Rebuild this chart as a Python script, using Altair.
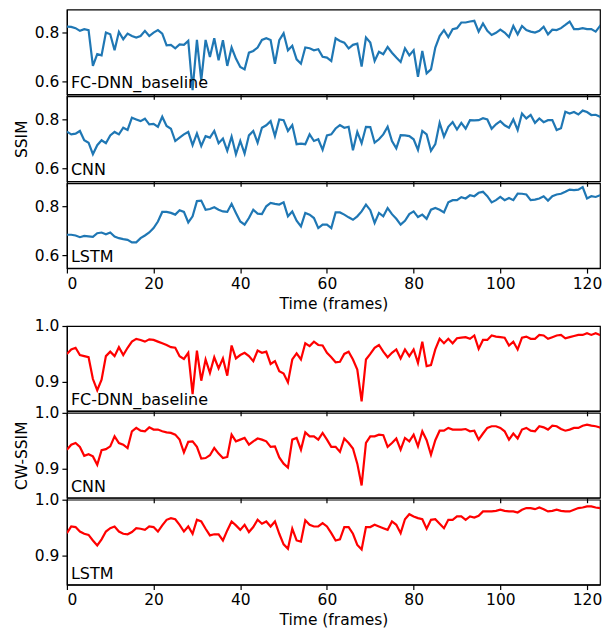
import altair as alt
import pandas as pd

frames = list(range(126))

ssim_fc = [
    0.824, 0.823, 0.818, 0.807, 0.814, 0.810, 0.664, 0.712, 0.707, 0.800,
    0.793, 0.728, 0.803, 0.773, 0.796, 0.786, 0.780, 0.786, 0.807, 0.786,
    0.800, 0.810, 0.796, 0.748, 0.750, 0.736, 0.752, 0.750, 0.766, 0.565,
    0.770, 0.605, 0.770, 0.700, 0.777, 0.687, 0.769, 0.664, 0.739, 0.694,
    0.660, 0.650, 0.718, 0.725, 0.739, 0.770, 0.777, 0.770, 0.673, 0.769,
    0.797, 0.728, 0.746, 0.691, 0.673, 0.739, 0.736, 0.728, 0.732, 0.701,
    0.698, 0.684, 0.777,
    0.766, 0.759, 0.735, 0.750, 0.755, 0.661, 0.780, 0.759, 0.684, 0.722,
    0.712, 0.741, 0.718, 0.698, 0.680, 0.736, 0.707, 0.728, 0.620, 0.725,
    0.634, 0.650, 0.739, 0.786, 0.810, 0.782, 0.814, 0.818, 0.841, 0.841,
    0.845, 0.848, 0.804, 0.837, 0.807, 0.790, 0.799, 0.812, 0.800, 0.782,
    0.827, 0.793, 0.827, 0.810, 0.804, 0.800, 0.807, 0.824, 0.793, 0.812,
    0.810, 0.818, 0.831, 0.845, 0.814, 0.814, 0.818, 0.814, 0.814, 0.804,
    0.827, 0.807, 0.804,
]

ssim_cnn = [
    0.750, 0.739, 0.742, 0.753, 0.715, 0.705, 0.658, 0.695, 0.715, 0.703,
    0.735, 0.749, 0.739, 0.766, 0.757, 0.807, 0.800, 0.793, 0.803, 0.780,
    0.782, 0.770, 0.811, 0.773, 0.762, 0.712, 0.726, 0.739, 0.749, 0.695,
    0.743, 0.692, 0.732, 0.726, 0.753, 0.703, 0.722, 0.672, 0.730, 0.658,
    0.712, 0.661, 0.735, 0.753, 0.705, 0.766, 0.776, 0.793, 0.732, 0.800,
    0.797, 0.753, 0.777, 0.699, 0.701, 0.699, 0.739, 0.712, 0.719, 0.676,
    0.735, 0.739, 0.763,
    0.777, 0.766, 0.770, 0.674, 0.749, 0.703, 0.770, 0.769, 0.705, 0.719,
    0.739, 0.770, 0.712, 0.682, 0.736, 0.735, 0.732, 0.719, 0.676, 0.753,
    0.739, 0.672, 0.699, 0.786, 0.730, 0.770, 0.789, 0.759, 0.786, 0.762,
    0.797, 0.796, 0.797, 0.805, 0.800, 0.762, 0.780, 0.793, 0.776, 0.766,
    0.800, 0.757, 0.824, 0.804, 0.818, 0.786, 0.804, 0.789, 0.797, 0.797,
    0.757, 0.764, 0.831, 0.824, 0.830, 0.820, 0.836, 0.830, 0.818, 0.819,
    0.811, 0.793, 0.791,
]

ssim_lstm = [
    0.684, 0.684, 0.681, 0.674, 0.679, 0.677, 0.675, 0.690, 0.693, 0.686,
    0.693, 0.677, 0.670, 0.666, 0.663, 0.653, 0.653, 0.670, 0.681, 0.693,
    0.711, 0.738, 0.777, 0.777, 0.773, 0.766, 0.784, 0.777, 0.734, 0.759,
    0.821, 0.823, 0.786, 0.789, 0.796, 0.786, 0.779, 0.777, 0.810, 0.773,
    0.738, 0.725, 0.752, 0.786, 0.770, 0.768, 0.800, 0.814, 0.810, 0.807,
    0.816, 0.759, 0.779, 0.741, 0.718, 0.773, 0.766, 0.752, 0.711, 0.725,
    0.725, 0.711, 0.775,
    0.775, 0.766, 0.755, 0.745, 0.759, 0.779, 0.807, 0.784, 0.732, 0.773,
    0.759, 0.793, 0.768, 0.749, 0.725, 0.741, 0.768, 0.779, 0.756, 0.766,
    0.749, 0.786, 0.793, 0.786, 0.775, 0.816, 0.825, 0.825, 0.837, 0.832,
    0.845, 0.841, 0.855, 0.859, 0.841, 0.816, 0.825, 0.838, 0.825, 0.834,
    0.825, 0.852, 0.851, 0.848, 0.825, 0.827, 0.832, 0.841, 0.823, 0.841,
    0.848, 0.851, 0.859, 0.868, 0.866, 0.868, 0.878, 0.832, 0.841, 0.838,
    0.845, 0.845, 0.834,
]

cw_fc = [
    0.950, 0.958, 0.961, 0.948, 0.946, 0.944, 0.905, 0.885, 0.904, 0.946,
    0.954, 0.946, 0.962, 0.948, 0.961, 0.972, 0.977, 0.975, 0.972, 0.976,
    0.975, 0.972, 0.969, 0.966, 0.962, 0.961, 0.946, 0.941, 0.952, 0.878,
    0.956, 0.902, 0.940, 0.916, 0.944, 0.924, 0.942, 0.911, 0.965, 0.942,
    0.948, 0.952, 0.946, 0.937, 0.956, 0.952, 0.954, 0.932, 0.937, 0.919,
    0.915, 0.899, 0.940, 0.951, 0.940, 0.969, 0.964, 0.972, 0.966, 0.965,
    0.952, 0.944, 0.935,
    0.936, 0.950, 0.954, 0.940, 0.922, 0.865, 0.940, 0.950, 0.961, 0.966,
    0.954, 0.944, 0.952, 0.958, 0.942, 0.958, 0.946, 0.958, 0.934, 0.972,
    0.928, 0.930, 0.958, 0.977, 0.969, 0.977, 0.969, 0.978, 0.979, 0.980,
    0.977, 0.983, 0.959, 0.975, 0.975, 0.983, 0.981, 0.980, 0.979, 0.965,
    0.972, 0.958, 0.979, 0.981, 0.977, 0.977, 0.984, 0.983, 0.977, 0.980,
    0.983, 0.984, 0.978, 0.980, 0.982, 0.984, 0.984, 0.987, 0.984, 0.987,
    0.984, 0.981, 0.983,
]

cw_cnn = [
    0.934, 0.943, 0.946, 0.939, 0.923, 0.926, 0.922, 0.907, 0.933, 0.935,
    0.940, 0.958, 0.946, 0.943, 0.937, 0.967, 0.973, 0.968, 0.967, 0.974,
    0.970, 0.970, 0.967, 0.965, 0.964, 0.961, 0.952, 0.929, 0.948, 0.949,
    0.939, 0.918, 0.919, 0.924, 0.937, 0.927, 0.919, 0.921, 0.961, 0.949,
    0.952, 0.955, 0.943, 0.949, 0.954, 0.952, 0.949, 0.939, 0.940, 0.920,
    0.909, 0.902, 0.952, 0.955, 0.934, 0.965, 0.958, 0.958, 0.952, 0.964,
    0.952, 0.939, 0.939,
    0.930, 0.954, 0.946, 0.936, 0.909, 0.870, 0.946, 0.958, 0.958, 0.961,
    0.960, 0.939, 0.946, 0.954, 0.934, 0.955, 0.949, 0.961, 0.940, 0.967,
    0.951, 0.925, 0.951, 0.968, 0.968, 0.973, 0.970, 0.970, 0.970, 0.971,
    0.967, 0.968, 0.952, 0.963, 0.973, 0.976, 0.976, 0.973, 0.967, 0.952,
    0.963, 0.954, 0.970, 0.973, 0.968, 0.967, 0.976, 0.974, 0.970, 0.977,
    0.976, 0.971, 0.968, 0.970, 0.973, 0.973, 0.977, 0.979, 0.977, 0.976,
    0.974, 0.965, 0.974,
]

cw_lstm = [
    0.940, 0.952, 0.951, 0.943, 0.939, 0.937, 0.927, 0.918, 0.929, 0.943,
    0.949, 0.952, 0.943, 0.939, 0.938, 0.942, 0.949, 0.948, 0.946, 0.952,
    0.951, 0.943, 0.954, 0.964, 0.967, 0.965, 0.955, 0.943, 0.952, 0.939,
    0.964, 0.961, 0.948, 0.936, 0.938, 0.938, 0.927, 0.945, 0.961, 0.954,
    0.946, 0.955, 0.942, 0.951, 0.964, 0.957, 0.961, 0.952, 0.961, 0.939,
    0.920, 0.912, 0.948, 0.927, 0.925, 0.963, 0.955, 0.952, 0.952, 0.958,
    0.952, 0.940, 0.927,
    0.929, 0.951, 0.951, 0.939, 0.919, 0.911, 0.951, 0.951, 0.955, 0.952,
    0.949, 0.946, 0.961, 0.955, 0.940, 0.965, 0.974, 0.970, 0.967, 0.965,
    0.948, 0.964, 0.965, 0.957, 0.949, 0.964, 0.964, 0.970, 0.970, 0.964,
    0.970, 0.968, 0.971, 0.979, 0.979, 0.979, 0.980, 0.982, 0.980, 0.979,
    0.979, 0.977, 0.982, 0.985, 0.985, 0.983, 0.986, 0.983, 0.979, 0.980,
    0.982, 0.980, 0.979, 0.979, 0.982, 0.985, 0.986, 0.988, 0.988, 0.986,
    0.985, 0.982, 0.983,
]

model_names = ["FC-DNN_baseline", "CNN", "LSTM"]
x_ticks = [0, 20, 40, 60, 80, 100, 120]
ssim_ticks = [0.6, 0.8]
cw_ticks = [0.9, 1.0]

W = 534
H = 85
XMAX = 123.0
FONT = "DejaVu Sans"
FS = 15.5


def panel(values, name, color, domain, yticks, ytitle, bottom):
    df = pd.DataFrame({"frame": frames, "v": values})
    xaxis = alt.Axis(values=x_ticks, labels=bottom, ticks=True)
    line = alt.Chart(df).mark_line(color=color, strokeWidth=2.2, clip=True).encode(
        x=alt.X("frame:Q", scale=alt.Scale(domain=[0, XMAX], nice=False, zero=False),
                axis=xaxis, title="Time (frames)" if bottom else None),
        y=alt.Y("v:Q", scale=alt.Scale(domain=domain, nice=False, zero=False),
                axis=alt.Axis(values=yticks, format=".1f"),
                title=ytitle if ytitle else None),
    )
    label = alt.Chart(pd.DataFrame({"t": [name]})).mark_text(
        align="left", baseline="alphabetic", font=FONT, fontSize=16, color="black"
    ).encode(x=alt.value(4), y=alt.value(H - 6), text="t:N")
    return alt.layer(line, label).properties(width=W, height=H)


spacer = alt.Chart(pd.DataFrame({"frame": [0]})).mark_point(opacity=0).encode(
    x=alt.X("frame:Q", axis=None), y=alt.Y("frame:Q", axis=None)
).properties(width=W, height=54, view=alt.ViewBackground(stroke="transparent"))

blue = "#1f77b4"
red = "#ff0000"
sd = [0.548, 0.894]
cd = [0.848, 1.0]

charts = [
    panel(ssim_fc, model_names[0], blue, sd, ssim_ticks, None, False),
    panel(ssim_cnn, model_names[1], blue, sd, ssim_ticks, "SSIM", False),
    panel(ssim_lstm, model_names[2], blue, sd, ssim_ticks, None, True),
    spacer,
    panel(cw_fc, model_names[0], red, cd, cw_ticks, None, False),
    panel(cw_cnn, model_names[1], red, cd, cw_ticks, "CW-SSIM", False),
    panel(cw_lstm, model_names[2], red, cd, cw_ticks, None, True),
]

chart = alt.vconcat(
    *charts, spacing=2, bounds="flush",
    padding={"left": 5, "top": 0, "right": 0, "bottom": 0},
).configure_view(
    stroke="black", strokeWidth=1.2
).configure_axis(
    labelFont=FONT, titleFont=FONT, labelFontSize=FS, titleFontSize=FS,
    labelColor="black", titleColor="black", domainColor="black", tickColor="black",
    tickSize=5, tickWidth=1.2, domainWidth=1.2, grid=False, labelPadding=3,
    titleFontWeight="normal", titlePadding=5,
)

chart.save("out.html", embed_options={"renderer": "svg", "actions": False})
